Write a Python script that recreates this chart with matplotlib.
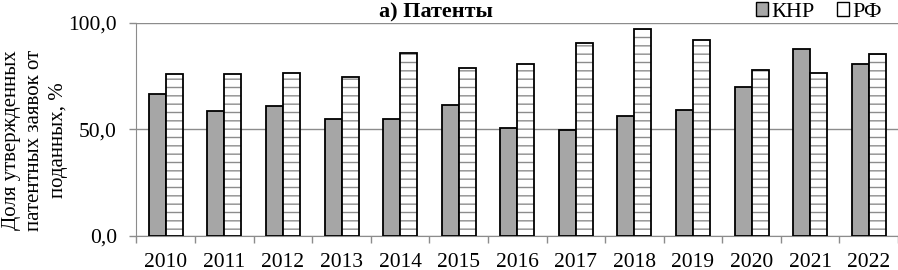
import matplotlib.pyplot as plt
import matplotlib.ticker as ticker
from matplotlib.patches import Patch
import numpy as np

years = ["2010", "2011", "2012", "2013", "2014", "2015", "2016",
         "2017", "2018", "2019", "2020", "2021", "2022"]
knr = [66.6, 58.7, 61.1, 55.0, 55.0, 61.3, 50.5, 49.5, 56.4, 59.1, 69.9, 87.7, 80.5]
rf = [75.8, 75.8, 76.3, 74.4, 85.6, 78.9, 80.8, 90.3, 96.9, 91.7, 78.0, 76.4, 85.2]

plt.rcParams['font.family'] = ['Liberation Serif', 'DejaVu Serif']
plt.rcParams['hatch.linewidth'] = 1.0

grid_col = '#8c8c8c'
fig = plt.figure(figsize=(8.98, 2.7), dpi=100)
ax = fig.add_axes([0.152, 0.126, 0.848, 0.790])

x = np.arange(len(years))
w = 0.29
ax.bar(x - w / 2, knr, w, color='#a6a6a6', edgecolor='black', linewidth=1.3, zorder=3)
# hatch drawn separately so it can be gray while the outline stays black
ax.bar(x + w / 2, rf, w, color='white', edgecolor='#8c8c8c', linewidth=0, hatch='--', zorder=3)
ax.bar(x + w / 2, rf, w, fill=False, edgecolor='black', linewidth=1.3, zorder=4)

ax.set_xlim(-0.5, len(years) - 0.5)
ax.set_ylim(0, 100)
ax.set_yticks([0, 50, 100])
ax.yaxis.set_major_formatter(ticker.FuncFormatter(lambda v, p: f"{v:.1f}".replace('.', ',')))
ax.set_xticks(x)
ax.set_xticklabels(years)
ax.set_xticks(np.arange(-0.5, len(years)), minor=True)
ax.tick_params(axis='x', which='major', length=0, pad=12, labelsize=15.5)
ax.tick_params(axis='x', which='minor', length=5, color=grid_col, width=1)
ax.tick_params(axis='y', length=5, color=grid_col, width=1, pad=9, labelsize=15.5)

ax.grid(axis='y', color=grid_col, linewidth=1, zorder=0)
for s in ['top', 'right']:
    ax.spines[s].set_visible(False)
ax.spines['left'].set_color(grid_col)
ax.spines['bottom'].set_color(grid_col)

fig.text(35 / 898, 0.481, "Доля утвержденных\nпатентных заявок от\nподанных, %",
         rotation=90, ha='center', va='center', fontsize=15, linespacing=1.3)
fig.text(436 / 898, 0.955, "а) Патенты", ha='center', va='center',
         fontsize=16, fontweight='bold')

handles = [Patch(facecolor='#a6a6a6', edgecolor='black', linewidth=1),
           Patch(facecolor='white', edgecolor='black', linewidth=1)]
fig.legend(handles, ["КНР", "РФ"], loc='center right', bbox_to_anchor=(0.982, 0.955),
           ncol=2, frameon=False, fontsize=16, handlelength=0.55, handleheight=0.55,
           handletextpad=0.15, columnspacing=1.0, borderaxespad=0, borderpad=0)

plt.savefig("out.png", dpi=100)
